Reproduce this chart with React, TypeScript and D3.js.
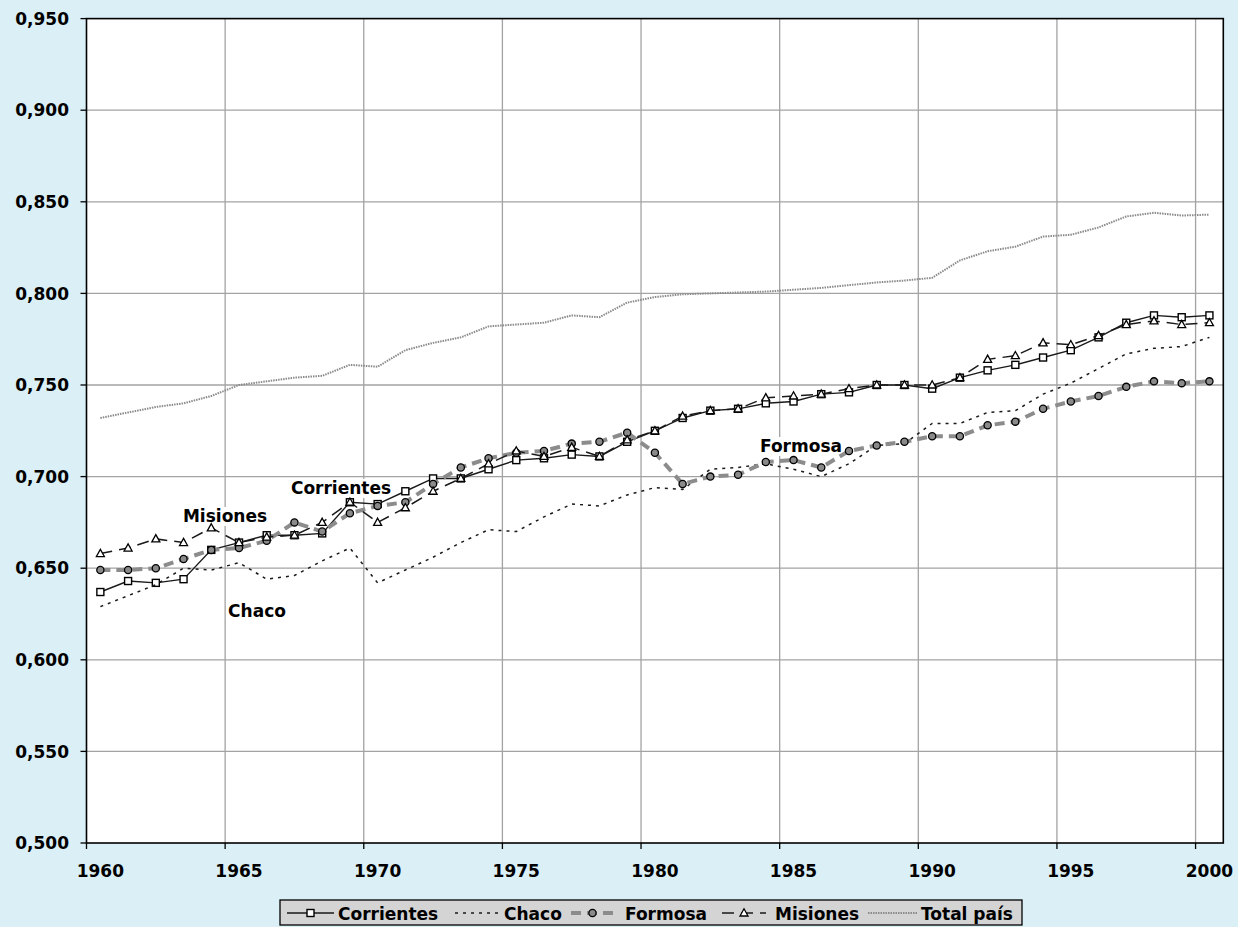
import React, { useEffect } from "react";
import * as d3 from "d3";

const W = 1238;
const H = 927;
const PLOT = { left: 86.5, right: 1223.3, top: 18.6, bottom: 843 };
const FONT = "'DejaVu Sans', Verdana, sans-serif";

const years = d3.range(1960, 2001);
const yTicks = [0.5, 0.55, 0.6, 0.65, 0.7, 0.75, 0.8, 0.85, 0.9, 0.95];
const xTicks = [1960, 1965, 1970, 1975, 1980, 1985, 1990, 1995, 2000];

const corrientes = [0.637, 0.643, 0.642, 0.644, 0.66, 0.664, 0.668, 0.668, 0.669, 0.686, 0.685, 0.692, 0.699, 0.699, 0.704, 0.709, 0.71, 0.712, 0.711, 0.719, 0.725, 0.732, 0.736, 0.737, 0.74, 0.741, 0.745, 0.746, 0.75, 0.75, 0.748, 0.754, 0.758, 0.761, 0.765, 0.769, 0.776, 0.784, 0.788, 0.787, 0.788];
const chaco = [0.629, 0.635, 0.641, 0.65, 0.649, 0.653, 0.644, 0.646, 0.654, 0.661, 0.642, 0.649, 0.656, 0.664, 0.671, 0.67, 0.678, 0.685, 0.684, 0.69, 0.694, 0.693, 0.704, 0.705, 0.707, 0.704, 0.7, 0.707, 0.717, 0.718, 0.729, 0.729, 0.735, 0.736, 0.745, 0.751, 0.759, 0.767, 0.77, 0.771, 0.776];
const formosa = [0.649, 0.649, 0.65, 0.655, 0.66, 0.661, 0.665, 0.675, 0.67, 0.68, 0.684, 0.686, 0.696, 0.705, 0.71, 0.713, 0.714, 0.718, 0.719, 0.724, 0.713, 0.696, 0.7, 0.701, 0.708, 0.709, 0.705, 0.714, 0.717, 0.719, 0.722, 0.722, 0.728, 0.73, 0.737, 0.741, 0.744, 0.749, 0.752, 0.751, 0.752];
const misiones = [0.658, 0.661, 0.666, 0.664, 0.672, 0.664, 0.667, 0.668, 0.675, 0.686, 0.675, 0.683, 0.692, 0.699, 0.707, 0.714, 0.711, 0.716, 0.711, 0.72, 0.725, 0.733, 0.736, 0.737, 0.743, 0.744, 0.745, 0.748, 0.75, 0.75, 0.75, 0.754, 0.764, 0.766, 0.773, 0.772, 0.777, 0.783, 0.785, 0.783, 0.784];
const totalPais = [0.732, 0.735, 0.738, 0.74, 0.744, 0.75, 0.752, 0.754, 0.755, 0.761, 0.76, 0.769, 0.773, 0.776, 0.782, 0.783, 0.784, 0.788, 0.787, 0.795, 0.798, 0.7995, 0.8, 0.8005, 0.801, 0.802, 0.803, 0.8045, 0.806, 0.807, 0.8085, 0.818, 0.823, 0.8255, 0.831, 0.832, 0.836, 0.842, 0.844, 0.8425, 0.843];

type Marker = "square" | "circle" | "triangle" | "none";
type Series = { name: string; values: number[]; stroke: string; width: number; dash?: string; marker: Marker };

const series: Series[] = [
  { name: "Corrientes", values: corrientes, stroke: "#1a1a1a", width: 1.4, marker: "square" },
  { name: "Chaco", values: chaco, stroke: "#1a1a1a", width: 1.5, dash: "3 5", marker: "none" },
  { name: "Formosa", values: formosa, stroke: "#8c8c8c", width: 4, dash: "10 6", marker: "circle" },
  { name: "Misiones", values: misiones, stroke: "#1a1a1a", width: 1.5, dash: "12 7", marker: "triangle" },
  { name: "Total país", values: totalPais, stroke: "#8a8a8a", width: 2, dash: "1.5 1", marker: "none" },
];

// inline labels: [text, centre x, baseline y]
const inlineLabels: [string, number, number][] = [
  ["Misiones", 225, 522],
  ["Chaco", 257, 617],
  ["Corrientes", 341, 494],
  ["Formosa", 801, 452],
];

const legendPos = [
  { sx: 287, ex: 334, tx: 338 },
  { sx: 455, ex: 499, tx: 504 },
  { sx: 571, ex: 614, tx: 625 },
  { sx: 722, ex: 766, tx: 775 },
  { sx: 868, ex: 917, tx: 921 },
];

const x = d3.scaleLinear().domain([1960, 2001]).range([PLOT.left, PLOT.right]);
const y = d3.scaleLinear().domain([0.5, 0.95]).range([PLOT.bottom, PLOT.top]);
const fmt = (v: number) => d3.format(".3f")(v).replace(".", ",");

function MarkerShape({ type, cx, cy }: { type: Marker; cx: number; cy: number }) {
  if (type === "square")
    return <rect x={cx - 3.5} y={cy - 3.5} width={7} height={7} fill="#fff" stroke="#000" strokeWidth={1.4} />;
  if (type === "circle")
    return <circle cx={cx} cy={cy} r={3.6} fill="#8a8a8a" stroke="#000" strokeWidth={1.3} />;
  if (type === "triangle")
    return <path d={`M${cx},${cy - 4.2}L${cx + 4},${cy + 3}L${cx - 4},${cy + 3}Z`} fill="#fff" stroke="#000" strokeWidth={1.3} />;
  return null;
}

export default function App() {
  useEffect(() => {
    document.body.style.margin = "0";
  }, []);

  const line = d3
    .line<number>()
    .x((_, i) => x(years[i] + 0.5))
    .y((d) => y(d));

  const labelWidth = (t: string) => t.length * 10.5 + 8;

  return (
    <svg width={W} height={H} style={{ display: "block", fontFamily: FONT }}>
      <rect width={W} height={H} fill="#daeff6" />
      <rect x={PLOT.left} y={PLOT.top} width={PLOT.right - PLOT.left} height={PLOT.bottom - PLOT.top} fill="#fff" />

      {/* grid */}
      {yTicks.slice(1, -1).map((t) => (
        <line key={"gy" + t} x1={PLOT.left} x2={PLOT.right} y1={y(t)} y2={y(t)} stroke="#a3a3a3" strokeWidth={1.3} />
      ))}
      {xTicks.slice(1).map((t) => (
        <line key={"gx" + t} x1={x(t)} x2={x(t)} y1={PLOT.top} y2={PLOT.bottom} stroke="#a3a3a3" strokeWidth={1.3} />
      ))}

      {/* inline label backgrounds */}
      {inlineLabels.map(([t, cx, by]) => (
        <rect key={"lb" + t} x={cx - labelWidth(t) / 2} y={by - 15} width={labelWidth(t)} height={19} fill="#fff" />
      ))}

      {/* series */}
      {series.map((s) => (
        <g key={s.name}>
          <path d={line(s.values) || ""} fill="none" stroke={s.stroke} strokeWidth={s.width} strokeDasharray={s.dash} />
          {s.values.map((v, i) => (
            <MarkerShape key={i} type={s.marker} cx={x(years[i] + 0.5)} cy={y(v)} />
          ))}
        </g>
      ))}

      {inlineLabels.map(([t, cx, by]) => (
        <text key={"lt" + t} x={cx} y={by} textAnchor="middle" fontWeight="bold" fontSize={17} fill="#000">
          {t}
        </text>
      ))}

      {/* plot border */}
      <rect x={PLOT.left} y={PLOT.top} width={PLOT.right - PLOT.left} height={PLOT.bottom - PLOT.top} fill="none" stroke="#000" strokeWidth={1.6} />

      {/* y axis */}
      {yTicks.map((t) => (
        <g key={"yt" + t}>
          <line x1={PLOT.left - 6} x2={PLOT.left} y1={y(t)} y2={y(t)} stroke="#000" strokeWidth={1.3} />
          <text x={69} y={y(t)} dy="0.36em" textAnchor="end" fontWeight="bold" fontSize={17}>
            {fmt(t)}
          </text>
        </g>
      ))}

      {/* x axis */}
      {xTicks.map((t) => (
        <line key={"xt" + t} x1={x(t)} x2={x(t)} y1={PLOT.bottom} y2={PLOT.bottom + 6} stroke="#000" strokeWidth={1.3} />
      ))}
      {xTicks.map((t) => (
        <text key={"xl" + t} x={x(t + 0.5)} y={877} textAnchor="middle" fontWeight="bold" fontSize={17}>
          {t}
        </text>
      ))}

      {/* legend */}
      <rect x={280} y={900} width={742} height={25} fill="#d4d4d4" stroke="#000" strokeWidth={1.3} />
      {series.map((s, i) => {
        const p = legendPos[i];
        const ly = 913;
        return (
          <g key={"lg" + s.name}>
            <line x1={p.sx} x2={p.ex} y1={ly} y2={ly} stroke={s.stroke} strokeWidth={s.width} strokeDasharray={s.dash} />
            <MarkerShape type={s.marker} cx={(p.sx + p.ex) / 2} cy={ly} />
            <text x={p.tx} y={920} fontWeight="bold" fontSize={17}>
              {s.name}
            </text>
          </g>
        );
      })}
    </svg>
  );
}
